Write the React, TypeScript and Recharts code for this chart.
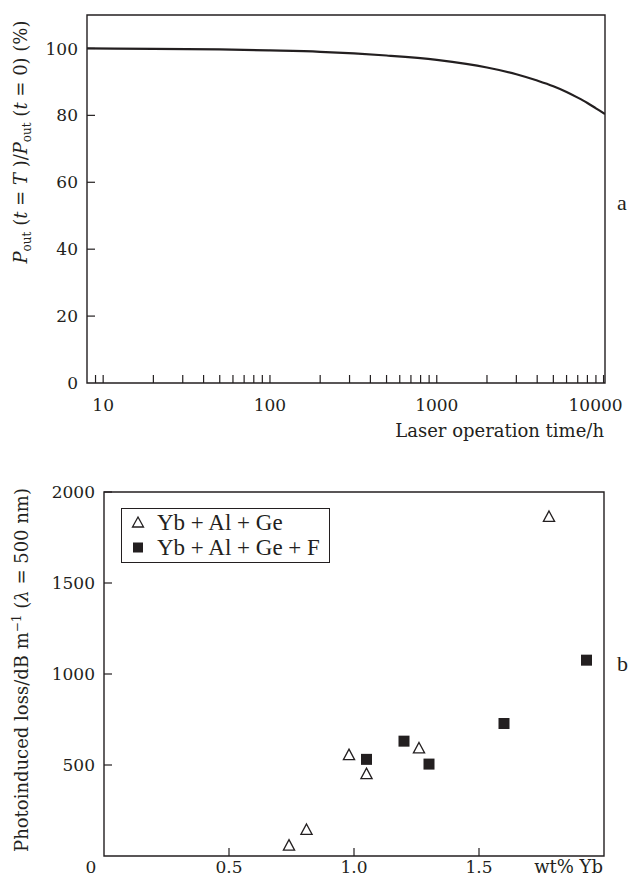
import React from 'react'
import {
  ComposedChart, Line, ScatterChart, Scatter, XAxis, YAxis, ReferenceArea, Label,
} from 'recharts'

const INK = '#231f20'
const FONT = 'Liberation Serif'
const SVG_FONT = 'DejaVu Serif'

// panel a: output power retention vs laser operation time
const hours     = [8, 20, 50, 100, 200, 500, 1000, 1500, 2000, 3000, 4000, 5000, 6000, 7000, 8000, 9000, 10200]
const retention = [100, 99.9, 99.7, 99.4, 99.0, 97.9, 96.6, 95.4, 94.3, 92.3, 90.4, 88.7, 87.0, 85.3, 83.7, 82.1, 80.4]
const hourTicks = [
  9, 10, 20, 30, 40, 50, 60, 70, 80, 90,
  100, 200, 300, 400, 500, 600, 700, 800, 900,
  1000, 2000, 3000, 4000, 5000, 6000, 7000, 8000, 9000, 10000,
]
const hourLabels = [10, 100, 1000, 10000]
const pctTicks = [0, 20, 40, 60, 80, 100]

// panel b: photoinduced loss vs Yb concentration
const ybGeX  = [0.74, 0.81, 0.98, 1.05, 1.26, 1.78]
const ybGeY  = [57, 143, 554, 450, 591, 1863]
const ybGeFX = [1.05, 1.20, 1.30, 1.60, 1.93]
const ybGeFY = [531, 631, 505, 728, 1076]
const wtTicks   = [0, 0.5, 1.0, 1.5]
const lossTicks = [500, 1000, 1500, 2000]

const curve = hours.map((t, i) => ({ t, v: retention[i] }))
const ybGe  = ybGeX.map((x, i) => ({ x, y: ybGeY[i] }))
const ybGeF = ybGeFX.map((x, i) => ({ x, y: ybGeFY[i] }))

const txt = { fontFamily: SVG_FONT, fill: INK }
const TICK_FS = 17
const TITLE_FS = 18

function HourTick({ x, y, payload }: any) {
  const v = payload.value
  const major = hourLabels.includes(v)
  return (
    <g>
      <line x1={x} x2={x} y1={y} y2={y - 8} stroke={INK} strokeWidth={1.2} />
      {major && (
        <text x={v === 10000 ? x - 8 : x} y={y + 28} textAnchor="middle" fontSize={TICK_FS} {...txt}>
          {v}
        </text>
      )}
    </g>
  )
}

function PctTick({ x, y, payload }: any) {
  return (
    <g>
      {payload.value > 0 && <line x1={x} x2={x + 8} y1={y} y2={y} stroke={INK} strokeWidth={1.2} />}
      <text x={x - 9} y={y} dy="0.36em" textAnchor="end" fontSize={TICK_FS} {...txt}>
        {payload.value}
      </text>
    </g>
  )
}

function WtTick({ x, y, payload }: any) {
  const v = payload.value
  return (
    <g>
      {v > 0 && <line x1={x} x2={x} y1={y} y2={y - 8} stroke={INK} strokeWidth={1.2} />}
      <text x={v === 0 ? x - 13 : x} y={y + 17} textAnchor="middle" fontSize={TICK_FS} {...txt}>
        {v === 0 ? '0' : v.toFixed(1)}
      </text>
    </g>
  )
}

function LossTick({ x, y, payload }: any) {
  return (
    <g>
      <line x1={x} x2={x + 8} y1={y} y2={y} stroke={INK} strokeWidth={1.2} />
      <text x={x - 9} y={y} dy="0.36em" textAnchor="end" fontSize={TICK_FS} {...txt}>
        {payload.value}
      </text>
    </g>
  )
}

const Triangle = ({ cx, cy }: any) => (
  <path
    d={`M${cx},${cy - 6} L${cx + 5.6},${cy + 4.5} L${cx - 5.6},${cy + 4.5} Z`}
    fill="#fff" stroke={INK} strokeWidth={1.3}
  />
)

const Square = ({ cx, cy }: any) => (
  <rect x={cx - 5.5} y={cy - 5.5} width={11} height={11} fill={INK} />
)

const TopYTitle = () => (
  <text transform="translate(27,142) rotate(-90)" textAnchor="middle" fontSize={TITLE_FS} {...txt}>
    <tspan fontStyle="italic">P</tspan>
    <tspan dy={4} fontSize={12}>out</tspan>
    <tspan dy={-4}> (</tspan>
    <tspan fontStyle="italic">t</tspan>
    <tspan> = </tspan>
    <tspan fontStyle="italic">T</tspan>
    <tspan> )/</tspan>
    <tspan fontStyle="italic">P</tspan>
    <tspan dy={4} fontSize={12}>out</tspan>
    <tspan dy={-4}> (</tspan>
    <tspan fontStyle="italic">t</tspan>
    <tspan> = 0) (%)</tspan>
  </text>
)

const TopXTitle = () => (
  <text x={604} y={437} textAnchor="end" fontSize={TITLE_FS} {...txt}>Laser operation time/h</text>
)

const BottomYTitle = () => (
  <text transform="translate(28,230) rotate(-90)" textAnchor="middle" fontSize={TITLE_FS} {...txt}>
    <tspan>Photoinduced loss/dB m</tspan>
    <tspan dy={-7} fontSize={12}>−1</tspan>
    <tspan dy={7}> (</tspan>
    <tspan fontStyle="italic">λ</tspan>
    <tspan> = 500 nm)</tspan>
  </text>
)

const BottomXTitle = () => (
  <text x={603} y={433} textAnchor="end" fontSize={TITLE_FS} {...txt}>wt% Yb</text>
)

function LegendBox() {
  const row = { display: 'flex', alignItems: 'center', height: 25 }
  return (
    <div
      style={{
        position: 'absolute', left: 121, top: 508, width: 207, height: 52,
        border: `1.3px solid ${INK}`, background: '#fff', fontFamily: FONT,
        fontSize: 23, color: INK, lineHeight: '25px', padding: '1px 0 0 0',
      }}
    >
      <div style={row}>
        <svg width={35} height={25}>
          <path d="M16,7 L21.5,17 L10.5,17 Z" fill="#fff" stroke={INK} strokeWidth={1.3} />
        </svg>
        <span>Yb + Al + Ge</span>
      </div>
      <div style={row}>
        <svg width={35} height={25}>
          <rect x={11} y={7.5} width={10} height={10} fill={INK} />
        </svg>
        <span>Yb + Al + Ge + F</span>
      </div>
    </div>
  )
}

export default function App() {
  return (
    <div style={{
      position: 'absolute', left: 0, top: 0, width: 630, height: 884,
      background: '#fff', fontFamily: FONT,
    }}>
      <div style={{ position: 'absolute', left: 617, top: 192, fontSize: 22, color: INK, lineHeight: '22px' }}>a</div>
      <div style={{ position: 'absolute', left: 617, top: 653, fontSize: 22, color: INK, lineHeight: '22px' }}>b</div>

      <div style={{ position: 'absolute', left: 0, top: 0 }}>
        <ComposedChart width={630} height={446} data={curve}
          margin={{ top: 15, right: 25, bottom: 33, left: 47 }}>
          <XAxis
            dataKey="t" type="number" scale="log" domain={[8, 10200]} allowDataOverflow
            ticks={hourTicks} interval={0} tick={<HourTick />}
            axisLine={false} tickLine={false} tickSize={0} tickMargin={0} height={30}
          >
            <Label content={<TopXTitle />} />
          </XAxis>
          <YAxis
            type="number" domain={[0, 110]} ticks={pctTicks} interval={0} tick={<PctTick />}
            axisLine={false} tickLine={false} tickSize={0} tickMargin={0} width={40}
          >
            <Label content={<TopYTitle />} />
          </YAxis>
          <ReferenceArea x1={8} x2={10200} y1={0} y2={110} fill="none" fillOpacity={0}
            stroke={INK} strokeWidth={1.4} ifOverflow="visible" />
          <Line dataKey="v" type="monotone" dot={false} stroke={INK} strokeWidth={2.2}
            isAnimationActive={false} />
        </ComposedChart>
      </div>

      <div style={{ position: 'absolute', left: 0, top: 440 }}>
        <ScatterChart width={630} height={444} margin={{ top: 52, right: 26, bottom: 8, left: 64 }}>
          <XAxis
            dataKey="x" type="number" domain={[0, 2]} allowDataOverflow
            ticks={wtTicks} interval={0} tick={<WtTick />}
            axisLine={false} tickLine={false} tickSize={0} tickMargin={0} height={20}
          >
            <Label content={<BottomXTitle />} />
          </XAxis>
          <YAxis
            dataKey="y" type="number" domain={[0, 2000]} ticks={lossTicks} interval={0} tick={<LossTick />}
            axisLine={false} tickLine={false} tickSize={0} tickMargin={0} width={40}
          >
            <Label content={<BottomYTitle />} />
          </YAxis>
          <ReferenceArea x1={0} x2={2} y1={0} y2={2000} fill="none" fillOpacity={0}
            stroke={INK} strokeWidth={1.4} ifOverflow="visible" />
          <Scatter name="Yb + Al + Ge" data={ybGe} shape={<Triangle />} isAnimationActive={false} />
          <Scatter name="Yb + Al + Ge + F" data={ybGeF} shape={<Square />} isAnimationActive={false} />
        </ScatterChart>
      </div>

      <LegendBox />
    </div>
  )
}
